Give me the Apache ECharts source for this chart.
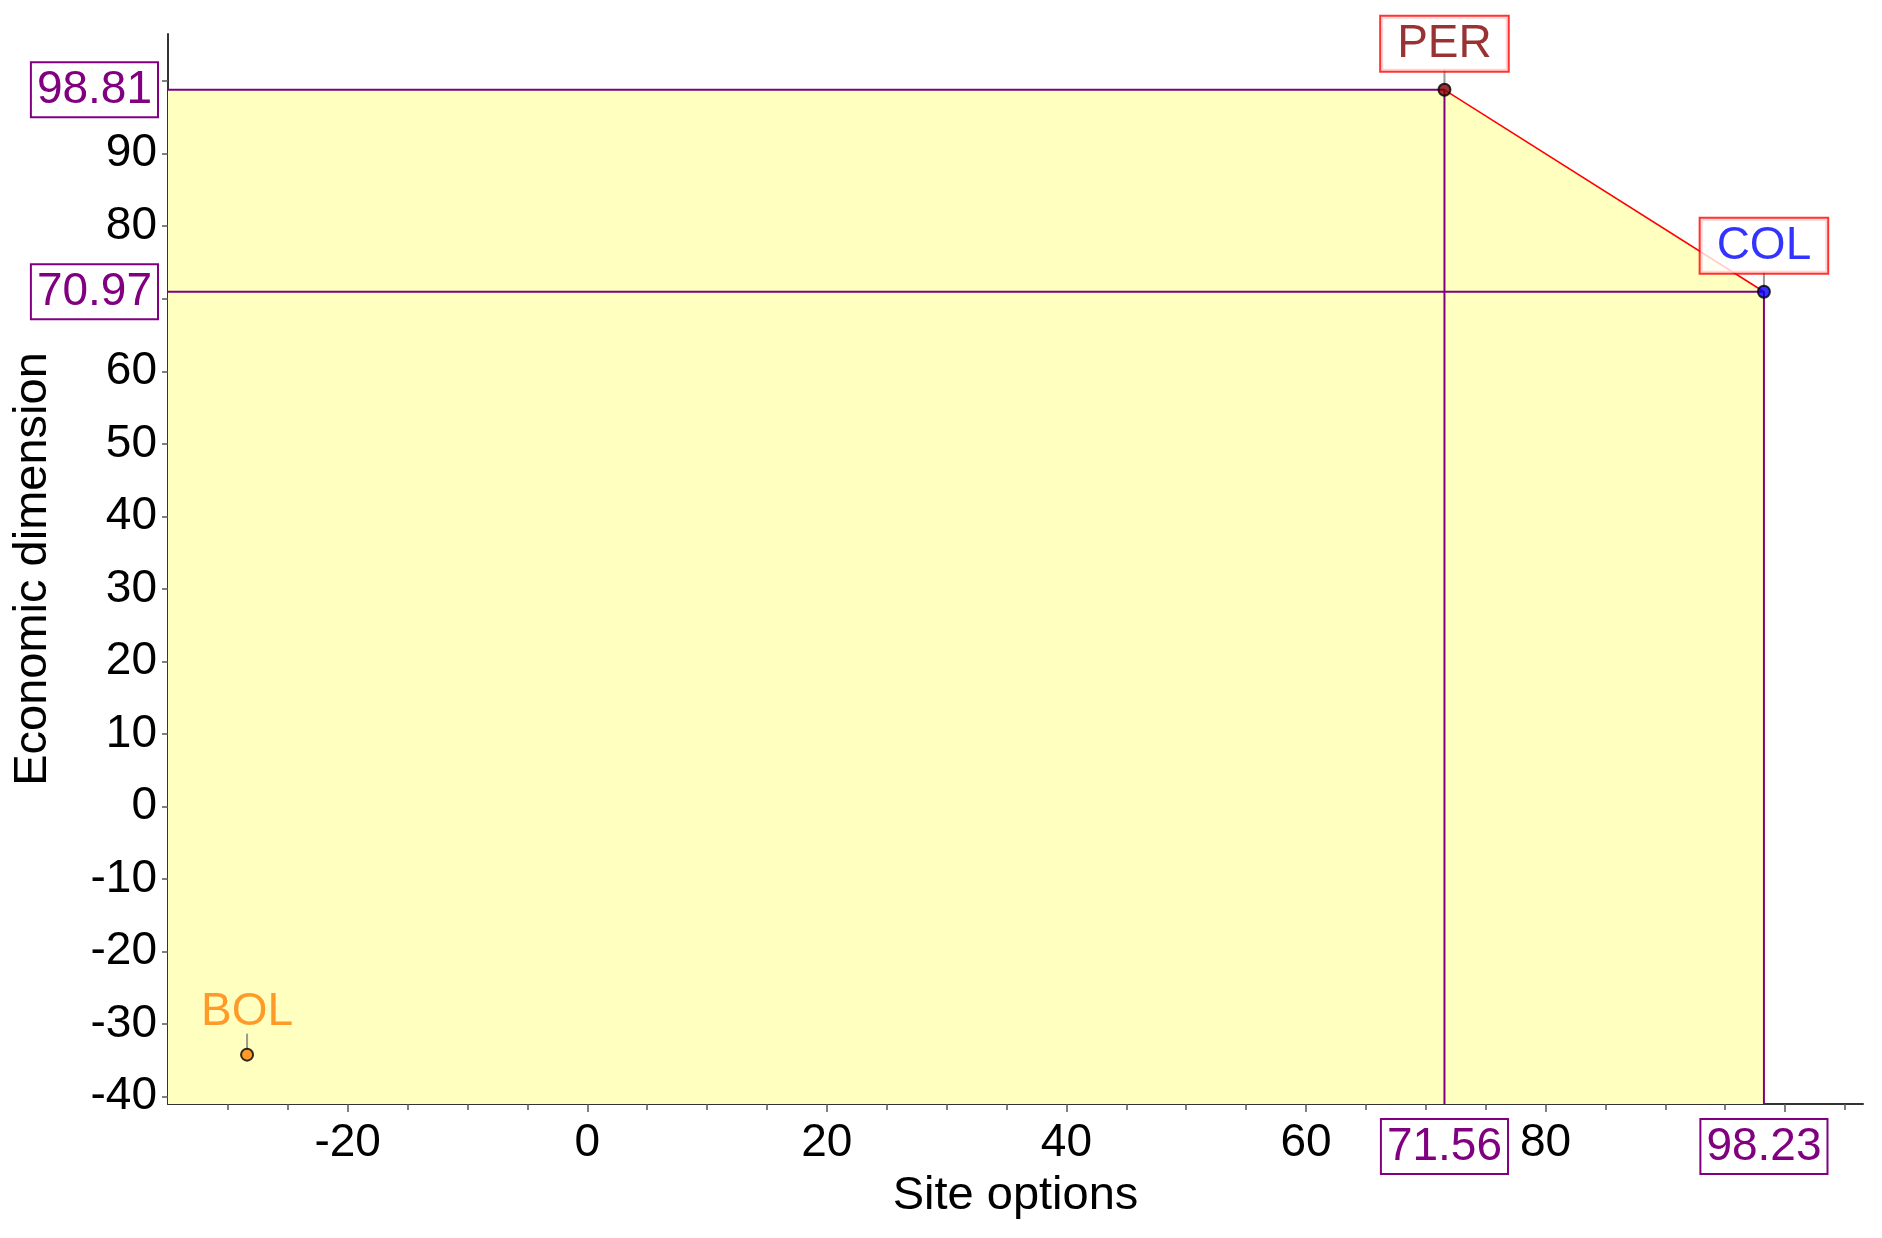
<!DOCTYPE html>
<html>
<head>
<meta charset="utf-8">
<script src="https://cdn.jsdelivr.net/npm/echarts@6/dist/echarts.min.js"></script>
<style>
  html, body { margin: 0; padding: 0; background: #fff; }
  #main { width: 1882px; height: 1238px; }
</style>
</head>
<body>
<div id="main"></div>
<script>
// sites (x = Site options, y = Economic dimension)
const siteNames = ['PER', 'COL', 'BOL'];
const siteX = [71.56, 98.23, -28.4];
const siteY = [98.81, 70.97, -34.2];
// sites on the frontier, in drawing order
const frontier = ['PER', 'COL'];

// axis range and ticks
const xMin = -35, xMax = 106.5;
const yMin = -41, yMax = 106.5;
const xTickMajor = [-20, 0, 20, 40, 60, 80, 100];
const xTickMinor = [-30, -25, -20, -15, -10, -5, 0, 5, 10, 15, 20, 25, 30, 35, 40, 45, 50, 55, 60, 65, 70, 75, 80, 85, 90, 95, 100, 105];
const xLabels = [-20, 0, 20, 40, 60, 80];
const yTicks = [-40, -30, -20, -10, 0, 10, 20, 30, 40, 50, 60, 70, 80, 90, 100];
const yLabels = [-40, -30, -20, -10, 0, 10, 20, 30, 40, 50, 60, 80, 90];

const siteColor = { PER: '#800000', COL: '#0000ff', BOL: '#ff8000' };
const FONT = 'Liberation Sans, Arial, sans-serif';
const purple = '#800080';

let myChart = echarts.init(document.getElementById('main'));

// the frontier points
let fx = frontier.map(n => siteX[siteNames.indexOf(n)]);
let fy = frontier.map(n => siteY[siteNames.indexOf(n)]);

// boxed values shown on the axes
let xBoxed = fx.slice();
let yBoxed = fy.slice();

let boxRich = {
    box: {
        color: purple, fontSize: 46, fontFamily: FONT,
        borderColor: purple, borderWidth: 2, backgroundColor: '#fff',
        padding: [4, 5, 3, 5]
    }
};
function fmt(boxed) {
    return function (v) {
        for (let b of boxed) {
            if (Math.abs(v - b) < 1e-6) return '{box|' + b.toFixed(2) + '}';
        }
        return String(v);
    };
}

// yellow area under the frontier staircase
let areaData = [[xMin, fy[0]]];
fx.forEach((x, i) => areaData.push([x, fy[i]]));

let series = [{
    type: 'line',
    data: areaData,
    symbol: 'none',
    lineStyle: { width: 0 },
    areaStyle: { color: '#ffffc0', opacity: 1, origin: 'start' },
    z: 1,
    silent: true
}];

// purple guide lines
fx.forEach((x, i) => {
    series.push({
        type: 'line', symbol: 'none', silent: true, z: 2,
        lineStyle: { color: purple, width: 2 },
        data: [[xMin, fy[i]], [x, fy[i]], [x, yMin]]
    });
});

// red frontier line
series.push({
    type: 'line', symbol: 'none', silent: true, z: 3,
    lineStyle: { color: '#ff0000', width: 1.5 },
    data: fx.map((x, i) => [x, fy[i]])
});

// little grey leader lines between points and labels
series.push({
    type: 'scatter', silent: true, z: 4,
    symbol: 'rect', symbolSize: [2, 16], symbolOffset: [0, -13],
    itemStyle: { color: '#808080' },
    data: siteNames.map((n, i) => [siteX[i], siteY[i]])
});

// site points and labels
series.push({
    type: 'scatter', z: 6,
    symbol: 'circle', symbolSize: 12,
    data: siteNames.map((n, i) => {
        let onFront = frontier.indexOf(n) >= 0;
        return {
            name: n,
            value: [siteX[i], siteY[i]],
            itemStyle: { color: siteColor[n], borderColor: '#000', borderWidth: 2 },
            label: onFront ? {
                color: siteColor[n],
                backgroundColor: '#fff', borderColor: '#ff0000', borderWidth: 2,
                padding: [5, 16, 3, 16], distance: 12
            } : { color: siteColor[n], distance: 12 }
        };
    }),
    label: {
        show: true, position: 'top', formatter: '{b}',
        fontSize: 46, fontFamily: FONT
    }
});

let option = {
    animation: false,
    backgroundColor: '#fff',
    textStyle: { fontFamily: FONT },
    grid: { left: 168, right: 19, top: 34, bottom: 134, containLabel: false, outerBoundsMode: 'none' },
    xAxis: [{
        type: 'value', min: xMin, max: xMax,
        name: 'Site options', nameLocation: 'middle', nameGap: 69, nameMoveOverlap: false,
        nameTextStyle: { fontSize: 47, color: '#000', fontFamily: FONT },
        axisLine: { show: true, onZero: false, lineStyle: { color: '#333', width: 2 } },
        axisTick: { show: true, customValues: xTickMajor, length: 8, lineStyle: { color: '#555', width: 1.5 } },
        axisLabel: {
            customValues: xLabels.concat(xBoxed), formatter: fmt(xBoxed),
            fontSize: 46, color: '#000', fontFamily: FONT, margin: 16, rich: boxRich
        },
        splitLine: { show: false }
    }, {
        type: 'value', min: xMin, max: xMax, position: 'bottom',
        axisLine: { show: false, onZero: false },
        axisTick: { show: true, customValues: xTickMinor, length: 6, lineStyle: { color: '#555', width: 1.5 } },
        axisLabel: { show: false },
        splitLine: { show: false }
    }],
    yAxis: {
        type: 'value', min: yMin, max: yMax,
        name: 'Economic dimension', nameLocation: 'middle', nameGap: 111, nameMoveOverlap: false,
        nameTextStyle: { fontSize: 47, color: '#000', fontFamily: FONT },
        axisLine: { show: true, onZero: false, lineStyle: { color: '#333', width: 2 } },
        axisTick: { show: true, customValues: yTicks, length: 6, lineStyle: { color: '#555', width: 1.5 } },
        axisLabel: {
            customValues: yLabels.concat(yBoxed), formatter: fmt(yBoxed),
            fontSize: 46, color: '#000', fontFamily: FONT, margin: 11, rich: boxRich
        },
        splitLine: { show: false }
    },
    series: series
};

myChart.setOption(option);
</script>
</body>
</html>
